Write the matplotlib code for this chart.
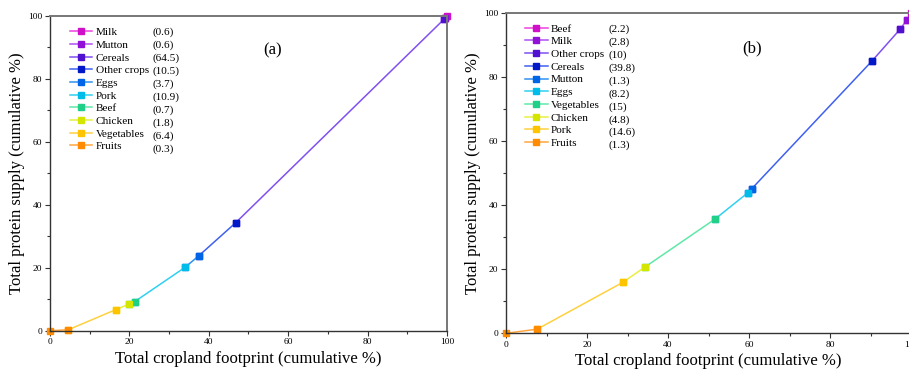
import matplotlib
matplotlib.use("Agg")
import numpy as np
import matplotlib.pyplot as plt
from matplotlib.ticker import MultipleLocator

plt.rcParams['font.family'] = ['Liberation Serif', 'DejaVu Serif']

# Panel (a): foods in plotting order along the curve (from origin)
foods_a = ["Fruits", "Vegetables", "Chicken", "Beef", "Pork", "Eggs",
           "Other crops", "Cereals", "Mutton", "Milk"]
share_a = [0.3, 6.4, 1.8, 0.7, 10.9, 3.7, 10.5, 64.5, 0.6, 0.6]
crop_a = [4.6, 16.6, 20.0, 21.3, 34.0, 37.5, 46.8, 99.2, 99.6, 100.0]

# Panel (b)
foods_b = ["Fruits", "Pork", "Chicken", "Vegetables", "Eggs", "Mutton",
           "Cereals", "Other crops", "Milk", "Beef"]
share_b = [1.3, 14.6, 4.8, 15, 8.2, 1.3, 39.8, 10, 2.8, 2.2]
crop_b = [7.7, 28.8, 34.3, 51.6, 59.7, 60.7, 90.3, 97.3, 98.9, 100.0]

# colours by position along the curve (marker, line)
marker_cols = ["#ff8c00", "#ffc400", "#d4e600", "#20d088", "#00bce8",
               "#0064e6", "#0018c8", "#5010d0", "#9010d8", "#d010c8"]
line_cols = ["#ffa640", "#ffd040", "#e8f040", "#60e8a8", "#30d0f0",
             "#3090f0", "#4060f0", "#8050f0", "#b050f0", "#f040e0"]

fig = plt.figure(figsize=(9.09, 3.71), dpi=100)
ax_a = fig.add_axes([0.055, 0.1086, 0.4367, 0.8491])
ax_b = fig.add_axes([0.5567, 0.1016, 0.4455, 0.8626])


def draw_panel(ax, foods, share, crop, tag, tag_x, leg_x, leg_y, val_x):
    xs = np.concatenate([[0.0], crop])
    ys = np.concatenate([[0.0], np.cumsum(share)])
    handles = []
    # draw from the end of the curve back, so each point shows its own colour
    for i in reversed(range(len(foods))):
        ln, = ax.plot(xs[i:i + 2], ys[i:i + 2], color=line_cols[i], lw=1.1,
                      marker='s', ms=4.8, mfc=marker_cols[i],
                      mec=marker_cols[i], clip_on=False)
        handles.append(ln)

    labels = [foods[i] for i in reversed(range(len(foods)))]
    vals = ["(%g)" % share[i] for i in reversed(range(len(foods)))]
    common = dict(loc='upper left', frameon=False, fontsize=8.1,
                  borderpad=0, borderaxespad=0, labelspacing=0.25)
    leg = ax.legend(handles, labels, bbox_to_anchor=(leg_x, leg_y),
                    handlelength=2.0, handletextpad=0.3, **common)
    ax.add_artist(leg)
    blank = [plt.Line2D([], [], lw=0) for _ in vals]
    ax.legend(blank, vals, bbox_to_anchor=(val_x, leg_y),
              handlelength=0, handletextpad=0, **common)

    ax.text(tag_x, 0.89, tag, transform=ax.transAxes, fontsize=12,
            ha='center', va='center')

    ax.set_xlim(0, 100)
    ax.set_ylim(0, 100)
    ax.xaxis.set_major_locator(MultipleLocator(20))
    ax.yaxis.set_major_locator(MultipleLocator(20))
    ax.xaxis.set_minor_locator(MultipleLocator(10))
    ax.yaxis.set_minor_locator(MultipleLocator(10))
    ax.tick_params(which='both', direction='out', top=False, right=False,
                   labelsize=6.8, width=0.8, color='#333333', pad=2)
    ax.tick_params(which='major', length=3.5)
    ax.tick_params(which='minor', length=2)
    for s in ('left', 'bottom'):
        ax.spines[s].set_color('#333333')
        ax.spines[s].set_linewidth(1.0)
    for s in ('top', 'right'):
        ax.spines[s].set_color('#777777')
        ax.spines[s].set_linewidth(1.4)
    ax.set_xlabel("Total cropland footprint (cumulative %)", fontsize=12,
                  labelpad=3)
    ax.set_ylabel("Total protein supply (cumulative %)", fontsize=12,
                  labelpad=2)


draw_panel(ax_a, foods_a, share_a, crop_a, "(a)", 0.56, 0.05, 0.963, 0.257)
draw_panel(ax_b, foods_b, share_b, crop_b, "(b)", 0.607, 0.047, 0.967, 0.254)

fig.savefig("out.png", dpi=100)
